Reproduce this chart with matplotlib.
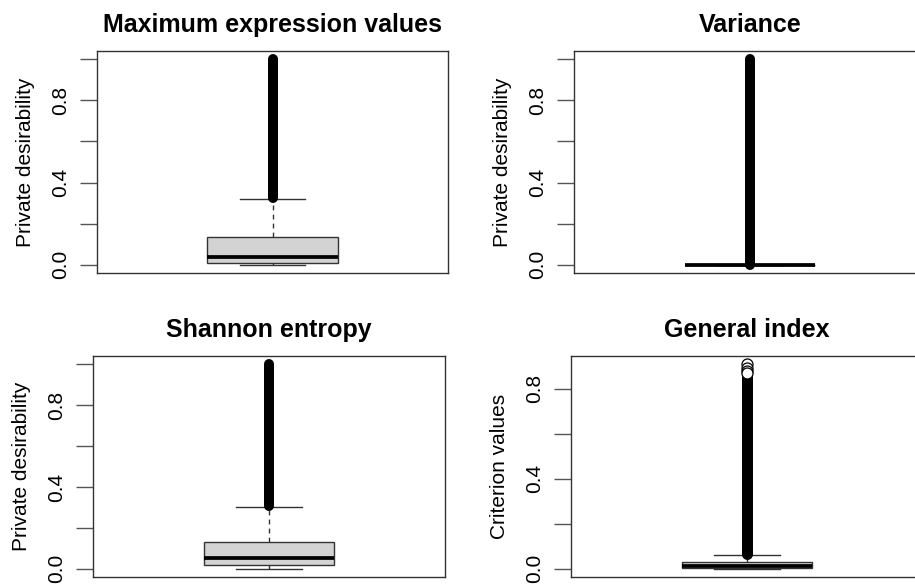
import numpy as np
import matplotlib
matplotlib.use("Agg")
import matplotlib.pyplot as plt

plt.rcParams['font.family'] = ['Liberation Sans', 'DejaVu Sans']

# one entry per panel, in reading order
titles = ["Maximum expression values", "Variance", "Shannon entropy", "General index"]
ylabels = ["Private desirability", "Private desirability", "Private desirability", "Criterion values"]

# box statistics
q1 = [0.008, 0.0, 0.017, 0.003]
med = [0.037, 0.0, 0.053, 0.011]
q3 = [0.133, 0.0, 0.130, 0.029]
whisk_lo = [0.0, 0.0, 0.0, 0.0]
whisk_hi = [0.320, 0.0, 0.302, 0.063]

# outliers are so dense they merge into a solid column between these values
out_lo = [0.325, 0.0, 0.306, 0.066]
out_hi = [1.0, 1.0, 1.0, 0.86]
# the few outliers that still show as separate circles (General index only)
sparse_out = [[], [], [], [0.91, 0.895, 0.88, 0.87]]

ticks = [[0.0, 0.2, 0.4, 0.6, 0.8, 1.0]] * 3 + [[0.0, 0.2, 0.4, 0.6, 0.8]]
tick_labels = ["0.0", "", "0.4", "", "0.8", ""]

# axes boxes in pixels: left, top, right, bottom
W, H = 915, 584
boxes = [(97, 51, 448, 273), (574, 51, 926, 273),
         (93, 356, 445, 577), (571, 356, 923, 577)]
col_px = [10, 10, 10, 11]

fig = plt.figure(figsize=(W / 100, H / 100), dpi=100)
edge = '#333333'

for i in range(4):
    l, t, r, b = boxes[i]
    ax = fig.add_axes([l / W, 1 - b / H, (r - l) / W, (b - t) / H])

    stats = [dict(med=med[i], q1=q1[i], q3=q3[i], whislo=whisk_lo[i],
                  whishi=whisk_hi[i], fliers=[])]
    ax.bxp(stats, positions=[1], widths=0.4, capwidths=0.2, patch_artist=True,
           showfliers=False,
           boxprops=dict(facecolor='#d3d3d3', edgecolor=edge, linewidth=1),
           medianprops=dict(color='black', linewidth=2.7, solid_capstyle='butt'),
           whiskerprops=dict(color=edge, linewidth=1, linestyle=(0, (3.5, 3))),
           capprops=dict(color=edge, linewidth=1))

    # dense outlier column
    lw = col_px[i] * 0.72
    ax.plot([1, 1], [out_lo[i], out_hi[i]], color='black', linewidth=lw,
            solid_capstyle='round', zorder=5)
    if sparse_out[i]:
        ax.plot([1] * len(sparse_out[i]), sparse_out[i], linestyle='none',
                marker='o', markersize=lw, markerfacecolor='white',
                markeredgecolor='black', markeredgewidth=0.9, zorder=6)

    lo = min(whisk_lo[i], out_lo[i])
    hi = max(whisk_hi[i], out_hi[i], max(sparse_out[i], default=0))
    span = hi - lo
    ax.set_ylim(lo - 0.04 * span, hi + 0.04 * span)
    ax.set_xlim(0.46, 1.54)

    ax.set_xticks([])
    ax.set_yticks(ticks[i])
    ax.set_yticklabels(tick_labels[:len(ticks[i])], rotation=90, va='center',
                       fontsize=15)
    ax.tick_params(axis='y', length=12, width=1, color='#555555', pad=7)
    for s in ax.spines.values():
        s.set_color(edge)
        s.set_linewidth(1)

    ax.set_ylabel(ylabels[i], fontsize=15, labelpad=12)
    ax.set_title(titles[i], fontsize=18, fontweight='bold', pad=13.5)

fig.savefig("out.png", dpi=100)
